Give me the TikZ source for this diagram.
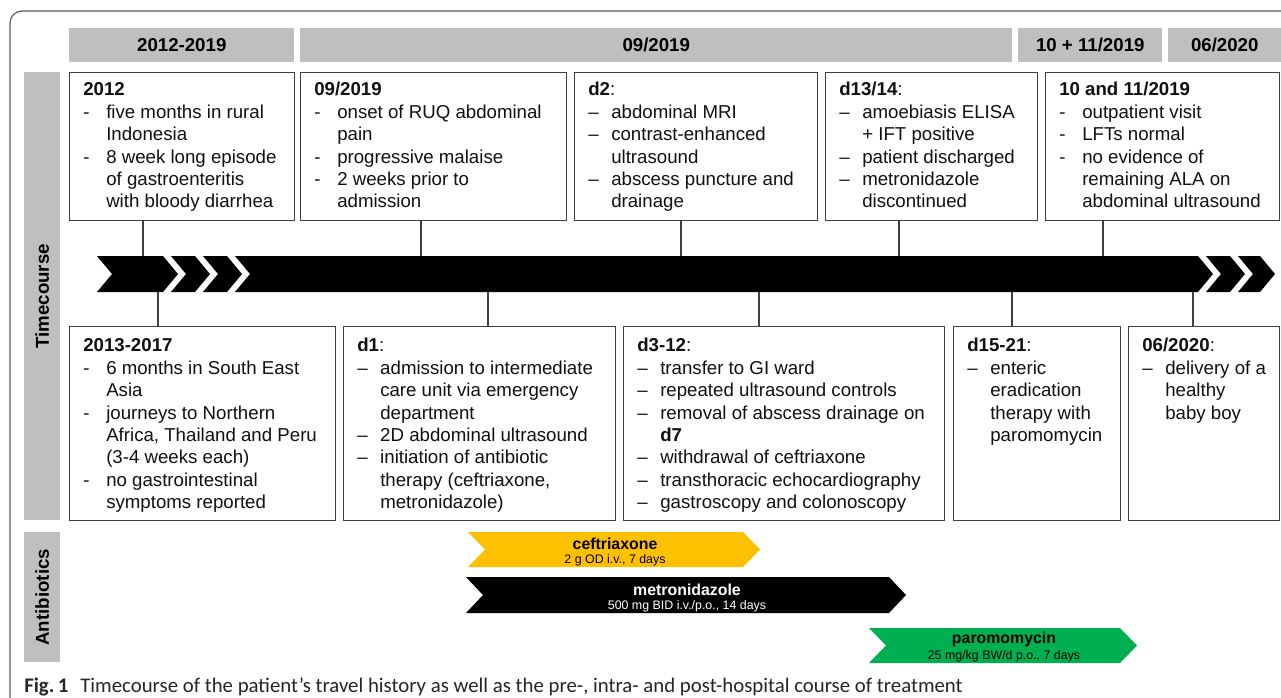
\documentclass[tikz,border=0pt]{standalone}
\usepackage{fontspec}
\setmainfont{Liberation Sans}
\newfontfamily\capfont{Carlito}
\newdimen\px \px=0.75pt
\definecolor{hdrgray}{HTML}{BFBFBF}
\definecolor{boxline}{HTML}{404040}
\definecolor{ceftcol}{HTML}{FFC000}
\definecolor{paromcol}{HTML}{00B050}
\definecolor{framecol}{HTML}{5A5A5A}
\definecolor{txtcol}{HTML}{111111}
\newcommand\mkbox[5]{\node[box, anchor=north west, minimum width={(#4-#2)*0.75pt}, minimum height={(#5-#3)*0.75pt}] (#1) at (#2,#3) {};}
\newcommand\mkhdr[6]{\node[hdr, anchor=north west, minimum width={(#4-#2)*0.75pt}, minimum height={(#5-#3)*0.75pt}] (#1) at (#2,#3) {#6};}
\newcommand\chev[2]{\fill[black] (#1,256) -- (#2,256) -- ({#2+15},274) -- (#2,292) -- (#1,292) -- ({#1+15},274) -- cycle;}
\newcommand\abxarrow[5]{\fill[#5] (#1,#3) -- (#2,#3) -- ({#2+17},{(#3+#4)/2}) -- (#2,#4) -- (#1,#4) -- ({#1+17},{(#3+#4)/2}) -- cycle;}
\tikzset{
  hdr/.style={fill=hdrgray, draw=none, inner sep=0pt, text=black, font=\fontsize{14}{16}\selectfont\bfseries},
  sidelbl/.style={fill=hdrgray, draw=none, inner sep=0pt, text=black, font=\fontsize{14}{16}\selectfont\bfseries},
  box/.style={draw=boxline, line width=1pt, fill=white, inner sep=0pt},
  txt/.style={inner sep=0pt, text=txtcol, font=\fontsize{14}{16.8}\selectfont},
  conn/.style={draw=boxline, line width=0.8pt},
  frame/.style={draw=framecol, line width=0.9pt, rounded corners=9pt},
  abxname/.style={inner sep=0pt, font=\fontsize{11.9}{13}\selectfont\bfseries},
  abxdose/.style={inner sep=0pt, font=\fontsize{9.3}{11}\selectfont},
}
\begin{document}
\begin{tikzpicture}[x=0.75pt,y=-0.75pt]
\useasboundingbox (0,0) rectangle (1281,697);
% outer frame
\draw[frame] (10,730) -- (10,11) -- (1320,11);
% headers
\mkhdr{H1}{69}{28}{294}{62}{2012-2019}
\mkhdr{H2}{300}{28}{1012}{62}{09/2019}
\mkhdr{H3}{1018}{28}{1162}{62}{10 + 11/2019}
\mkhdr{H4}{1168}{28}{1281}{62}{06/2020}
% side labels
\node[sidelbl, anchor=north west, minimum width={36*0.75pt}, minimum height={448*0.75pt}] (S1) at (24,72) {};
\node[sidelbl, rotate=90] (S1t) at (S1.center) {Timecourse};
\node[sidelbl, anchor=north west, minimum width={36*0.75pt}, minimum height={130*0.75pt}] (S2) at (24,532) {};
\node[sidelbl, rotate=90] (S2t) at (S2.center) {Antibiotics};
% timeline
\chev{97}{163}
\chev{171}{195}
\chev{203}{227}
\chev{235}{1198}
\chev{1206}{1230}
\chev{1238}{1260}
% top boxes
\mkbox{T1}{69}{72}{294}{220}
\mkbox{T2}{300}{72}{566}{220}
\mkbox{T3}{574}{72}{817}{220}
\mkbox{T4}{825}{72}{1037}{220}
\mkbox{T5}{1045}{72}{1279}{220}
% bottom boxes
\mkbox{B1}{69}{326}{335}{520}
\mkbox{B2}{343}{326}{615}{520}
\mkbox{B3}{623}{326}{944}{520}
\mkbox{B4}{953}{326}{1120}{520}
\mkbox{B5}{1128}{326}{1279}{520}
% texts of top boxes
\node[txt, anchor=north west] (T1t) at ([shift={(14,8)}]T1.north west) {\begin{tabular}{@{}p{23\px}@{}l@{}}
\multicolumn{2}{@{}l@{}}{\textbf{2012}}\\
- & five months in rural\\ & Indonesia\\
- & 8 week long episode\\ & of gastroenteritis\\ & with bloody diarrhea
\end{tabular}};
\node[txt, anchor=north west] (T2t) at ([shift={(14,8)}]T2.north west) {\begin{tabular}{@{}p{23\px}@{}l@{}}
\multicolumn{2}{@{}l@{}}{\textbf{09/2019}}\\
- & onset of RUQ abdominal\\ & pain\\
- & progressive malaise\\
- & 2 weeks prior to\\ & admission
\end{tabular}};
\node[txt, anchor=north west] (T3t) at ([shift={(14,8)}]T3.north west) {\begin{tabular}{@{}p{23\px}@{}l@{}}
\multicolumn{2}{@{}l@{}}{\textbf{d2}:}\\
\textendash & abdominal MRI\\
\textendash & contrast-enhanced\\ & ultrasound\\
\textendash & abscess puncture and\\ & drainage
\end{tabular}};
\node[txt, anchor=north west] (T4t) at ([shift={(14,8)}]T4.north west) {\begin{tabular}{@{}p{23\px}@{}l@{}}
\multicolumn{2}{@{}l@{}}{\textbf{d13/14}:}\\
\textendash & amoebiasis ELISA\\ & + IFT positive\\
\textendash & patient discharged\\
\textendash & metronidazole\\ & discontinued
\end{tabular}};
\node[txt, anchor=north west] (T5t) at ([shift={(14,8)}]T5.north west) {\begin{tabular}{@{}p{23\px}@{}l@{}}
\multicolumn{2}{@{}l@{}}{\textbf{10 and 11/2019}}\\
- & outpatient visit\\
- & LFTs normal\\
- & no evidence of\\ & remaining ALA on\\ & abdominal ultrasound
\end{tabular}};
% texts of bottom boxes
\node[txt, anchor=north west] (B1t) at ([shift={(14,10)}]B1.north west) {\begin{tabular}{@{}p{23\px}@{}l@{}}
\multicolumn{2}{@{}l@{}}{\textbf{2013-2017}}\\
- & 6 months in South East\\ & Asia\\
- & journeys to Northern\\ & Africa, Thailand and Peru\\ & (3-4 weeks each)\\
- & no gastrointestinal\\ & symptoms reported
\end{tabular}};
\node[txt, anchor=north west] (B2t) at ([shift={(14,10)}]B2.north west) {\begin{tabular}{@{}p{23\px}@{}l@{}}
\multicolumn{2}{@{}l@{}}{\textbf{d1}:}\\
\textendash & admission to intermediate\\ & care unit via emergency\\ & department\\
\textendash & 2D abdominal ultrasound\\
\textendash & initiation of antibiotic\\ & therapy (ceftriaxone,\\ & metronidazole)
\end{tabular}};
\node[txt, anchor=north west] (B3t) at ([shift={(14,10)}]B3.north west) {\begin{tabular}{@{}p{23\px}@{}l@{}}
\multicolumn{2}{@{}l@{}}{\textbf{d3-12}:}\\
\textendash & transfer to GI ward\\
\textendash & repeated ultrasound controls\\
\textendash & removal of abscess drainage on\\ & \textbf{d7}\\
\textendash & withdrawal of ceftriaxone\\
\textendash & transthoracic echocardiography\\
\textendash & gastroscopy and colonoscopy
\end{tabular}};
\node[txt, anchor=north west] (B4t) at ([shift={(14,10)}]B4.north west) {\begin{tabular}{@{}p{23\px}@{}l@{}}
\multicolumn{2}{@{}l@{}}{\textbf{d15-21}:}\\
\textendash & enteric\\ & eradication\\ & therapy with\\ & paromomycin
\end{tabular}};
\node[txt, anchor=north west] (B5t) at ([shift={(14,10)}]B5.north west) {\begin{tabular}{@{}p{23\px}@{}l@{}}
\multicolumn{2}{@{}l@{}}{\textbf{06/2020}:}\\
\textendash & delivery of a\\ & healthy\\ & baby boy
\end{tabular}};
% connectors
\coordinate (tu1) at (143,256);
\coordinate (tu2) at (421,256);
\coordinate (tu3) at (681,256);
\coordinate (tu4) at (899,256);
\coordinate (tu5) at (1103,256);
\coordinate (td1) at (158,292);
\coordinate (td2) at (488,292);
\coordinate (td3) at (759,292);
\coordinate (td4) at (1012,292);
\coordinate (td5) at (1193,292);
\draw[conn] (T1.south -| tu1) -- (tu1);
\draw[conn] (T2.south -| tu2) -- (tu2);
\draw[conn] (T3.south -| tu3) -- (tu3);
\draw[conn] (T4.south -| tu4) -- (tu4);
\draw[conn] (T5.south -| tu5) -- (tu5);
\draw[conn] (td1) -- (td1 |- B1.north);
\draw[conn] (td2) -- (td2 |- B2.north);
\draw[conn] (td3) -- (td3 |- B3.north);
\draw[conn] (td4) -- (td4 |- B4.north);
\draw[conn] (td5) -- (td5 |- B5.north);
% antibiotics
\abxarrow{468}{743}{532}{567}{ceftcol}
\abxarrow{466}{889}{577}{613}{black}
\abxarrow{869}{1120}{628}{663}{paromcol}
\node[abxname] (cn) at (615,544) {ceftriaxone};
\node[abxdose] (cd) at (615,560) {2 g OD i.v., 7 days};
\node[abxname, text=white] (mn) at (687,590) {metronidazole};
\node[abxdose, text=white] (md) at (687,606) {500 mg BID i.v./p.o., 14 days};
\node[abxname] (pn) at (1004,639) {paromomycin};
\node[abxdose] (pd) at (1004,656) {25 mg/kg BW/d p.o., 7 days};
% caption
\node[anchor=base west, inner sep=0pt, font=\capfont\fontsize{15.6}{18}\selectfont, text=black!85] (cap) at (24,692) {\textbf{Fig.\,1}\hspace{12\px}Timecourse of the patient’s travel history as well as the pre-, intra- and post-hospital course of treatment};
\end{tikzpicture}
\end{document}
